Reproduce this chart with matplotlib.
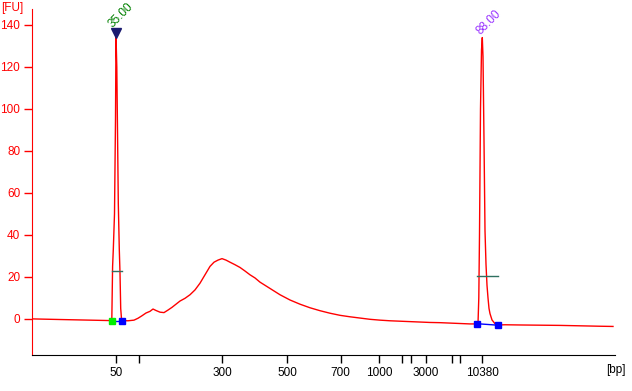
from matplotlib import pyplot as plt

plt.rcParams['font.family'] = ['Liberation Sans', 'DejaVu Sans']

# migration time (arbitrary units) and fluorescence [FU]
time = [32, 60, 80, 100, 110, 111.8, 112.2, 112.6, 113.3, 114.5, 115.5, 116, 116.8,
        117.5, 118.3, 119.3, 120, 120.7, 121.5, 122, 128, 134, 138, 142, 146, 150,
        153, 156, 160, 164, 168, 172, 176, 180, 185, 190, 195, 200, 205, 210, 214,
        218, 222, 226, 230, 235, 240, 245, 250, 255, 260, 265, 270, 275, 280, 290,
        300, 310, 320, 330, 340, 350, 360, 370, 380, 390, 400, 410, 420, 430, 440,
        450, 460, 470, 476, 478, 478.8, 479.5, 480.5, 481.5, 482.3, 483, 484, 485,
        486, 487, 488, 489, 490, 492, 495, 498, 505, 520, 540, 560, 580, 600, 613]
fu = [0, -0.3, -0.5, -0.7, -0.8, -0.8, 12, 25, 33, 50, 95, 135, 120,
      90, 55, 33, 22, 5, 0, -0.8, -0.9, -0.6, 0.3, 1.5, 2.8, 3.6,
      4.7, 4.0, 3.2, 3.0, 4.2, 5.5, 7.0, 8.5, 9.8, 11.5, 13.8, 17, 21, 25, 27,
      28, 28.7, 28, 27, 25.8, 24.5, 22.8, 21, 19.5, 17.5, 16, 14.5, 13, 11.5, 9,
      7, 5.3, 3.9, 2.7, 1.7, 1.0, 0.4, -0.2, -0.6, -0.9, -1.1, -1.3, -1.5, -1.7, -1.8,
      -2.0, -2.2, -2.4, -2.4, -2.2, 10, 40, 100, 128, 134, 125, 85, 42,
      26, 16, 10, 5, 2.5, -0.5, -2.3, -2.9, -2.8, -2.9, -3.0, -3.1, -3.3, -3.5, -3.6]

tick_pos = [116, 139, 222, 287, 340.5, 379, 401.5, 411, 426, 451.5, 460, 482]
tick_lab = ["50", "", "300", "500", "700", "1000", "", "", "3000", "", "", "10380"]

# peak info: start, end, baseline at start/end, half-height level
peak_start = [112, 477.3]
peak_end = [122, 497.7]
base_start = [-0.8, -2.3]
base_end = [-0.8, -3.0]
half_level = [22.7, 20.5]
peak_top = [116, 482.3]
peak_label = ["35.00", "88.00"]
label_col = ["#008000", "#9933ff"]

fig = plt.figure(figsize=(6.32, 3.91), dpi=100)
ax = fig.add_axes([32/632, 36/391, 583/632, 346/391])

ax.plot(time, fu, color="red", linewidth=1)

for i in range(2):
    ax.plot([peak_start[i], peak_end[i]], [base_start[i], base_end[i]], color="blue", linewidth=1)
    ax.plot([peak_start[i], peak_end[i]], [half_level[i], half_level[i]], color="#2f7060", linewidth=1)
    c0 = "#00ee00" if i == 0 else "blue"
    ax.plot(peak_start[i], base_start[i], marker="s", markersize=4, color=c0, linestyle="none")
    ax.plot(peak_end[i], base_end[i], marker="s", markersize=4, color="blue", linestyle="none")

ax.plot(peak_top[0], 136.3, marker="v", markersize=6.5, color="#1a1a70", linestyle="none", clip_on=False)
ax.text(peak_top[0] + 4.5, 144.7, peak_label[0], color=label_col[0], rotation=45,
        fontsize=8.5, ha="center", va="center")
ax.text(peak_top[1] + 7, 141.4, peak_label[1], color=label_col[1], rotation=45,
        fontsize=8.5, ha="center", va="center")

ax.set_xlim(32, 615)
ax.set_ylim(-17.2, 147.6)
ax.set_xticks(tick_pos)
ax.set_xticklabels(tick_lab)
ax.set_yticks([0, 20, 40, 60, 80, 100, 120, 140])

ax.spines["top"].set_visible(False)
ax.spines["right"].set_visible(False)
ax.spines["left"].set_color("red")
ax.spines["bottom"].set_color("black")
ax.tick_params(axis="y", colors="red", labelsize=8.5, length=6, width=1, pad=2.5)
ax.tick_params(axis="x", colors="black", labelsize=8.5, length=6, width=1, pad=2.5)

fig.text(1/632, 1 - 8/391, "[FU]", color="red", fontsize=8.5, ha="left", va="center")
fig.text(626/632, 1 - 370/391, "[bp]", color="black", fontsize=8.5, ha="right", va="center")

fig.savefig("out.png", dpi=100)
